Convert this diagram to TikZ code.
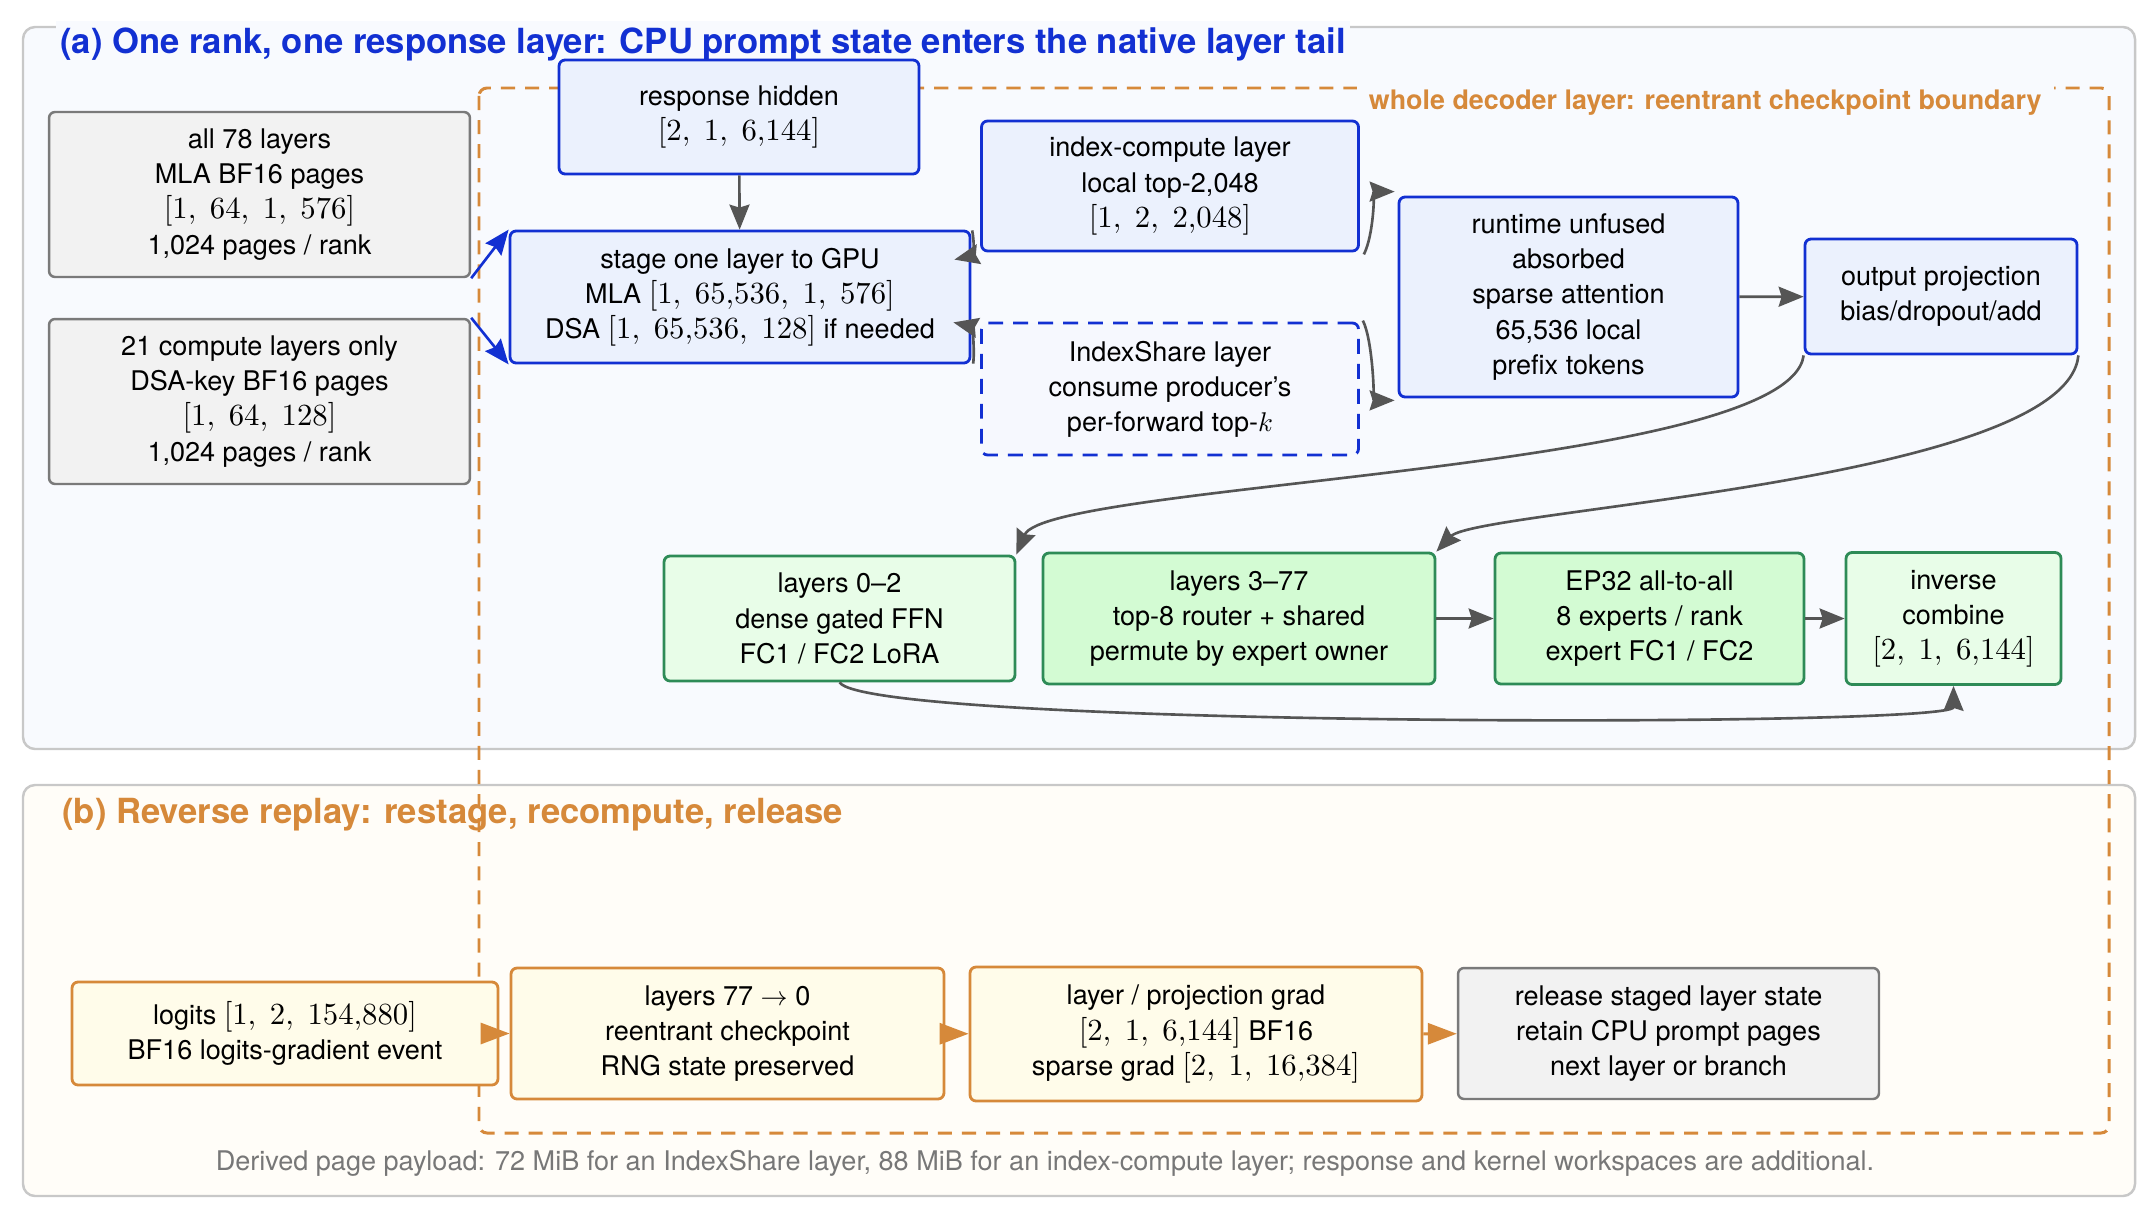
\documentclass[tikz,border=0pt]{standalone}
\usepackage[no-math]{fontspec}
\setmainfont{TeX Gyre Heros}
\usetikzlibrary{arrows.meta}
\DeclareFontShape{OT1}{cmr}{m}{n}{<->cmr10}{}
\DeclareFontShape{OML}{cmm}{m}{it}{<->cmmi10}{}
\DeclareFontShape{OMS}{cmsy}{m}{n}{<->cmsy10}{}
\DeclareFontShape{OMX}{cmex}{m}{n}{<->cmex10}{}
\newcommand{\tsr}[1]{{\fontsize{17.5}{20}\selectfont$#1$}}

\definecolor{gpuedge}{HTML}{1230D2}
\definecolor{gpufill}{HTML}{EBF1FD}
\definecolor{sharefill}{HTML}{F6F8FE}
\definecolor{cpuedge}{HTML}{7A7A7A}
\definecolor{cpufill}{HTML}{F2F2F2}
\definecolor{ffnedge}{HTML}{2E8B57}
\definecolor{ffnfill}{HTML}{E8FDE8}
\definecolor{moefill}{HTML}{D3FBD3}
\definecolor{bwdedge}{HTML}{D6893A}
\definecolor{bwdfill}{HTML}{FFFCEA}
\definecolor{panelA}{HTML}{F8FAFE}
\definecolor{panelB}{HTML}{FFFDF8}
\definecolor{paneledge}{HTML}{C8C8C8}
\definecolor{arrowgray}{HTML}{555555}
\definecolor{notegray}{HTML}{777777}

\begin{document}
\begin{tikzpicture}[x=0.02cm, y=-0.02cm,
    box/.style={draw, rounded corners=0.12cm, align=center, line width=1.6pt, inner sep=0pt, font=\fontsize{15.4}{20}\selectfont},
    cpubox/.style={box, draw=cpuedge, fill=cpufill, line width=1.4pt},
    gpubox/.style={box, draw=gpuedge, fill=gpufill},
    sharebox/.style={gpubox, fill=sharefill, dash pattern=on 8.5pt off 5.7pt},
    ffnbox/.style={box, draw=ffnedge, fill=ffnfill},
    moebox/.style={ffnbox, fill=moefill},
    bwdbox/.style={box, draw=bwdedge, fill=bwdfill},
    flow/.style={-{Stealth[length=0.5cm, width=0.4cm, inset=0.06cm]}, line width=1.5pt, draw=arrowgray},
    stageflow/.style={flow, draw=gpuedge},
    bwdflow/.style={-{Triangle[length=0.58cm, width=0.42cm]}, line width=1.7pt, draw=bwdedge},
    panel/.style={draw=paneledge, line width=1.4pt, rounded corners=0.24cm},
    paneltitle/.style={font=\fontsize{19.7}{24}\selectfont\bfseries, inner xsep=0.08cm, inner ysep=0.12cm, anchor=base west}]
    \useasboundingbox (0,0) rectangle (2150,1210);

    % panels and checkpoint boundary
    \draw[panel, fill=panelA] (23,27) rectangle (2135,749);
    \draw[panel, fill=panelB] (23,785) rectangle (2135,1196);
    \draw[draw=bwdedge, line width=1.7pt, dash pattern=on 8pt off 5.7pt, rounded corners=0.16cm] (479,88) rectangle (2109,1133);

    \node[paneltitle, text=gpuedge, fill=panelA] (titleA) at (56,53) {(a) One rank, one response layer: CPU prompt state enters the native layer tail};
    \node[paneltitle, text=bwdedge] (titleB) at (58,823) {(b) Reverse replay: restage, recompute, release};
    \node[font=\fontsize{15.3}{18}\selectfont\bfseries, text=bwdedge, fill=panelA, anchor=base east, inner xsep=0.24cm, inner ysep=0.1cm] (bound) at (2054,109) {whole decoder layer: reentrant checkpoint boundary};

    % forward pass
    \node[cpubox, minimum width=8.42cm, minimum height=3.3cm] (cpuall) at (259.5,194.5) {all 78 layers\\MLA BF16 pages\\\tsr{[1,\;64,\;1,\;576]}\\1,024 pages / rank};
    \node[cpubox, minimum width=8.42cm, minimum height=3.3cm] (cpudsa) at (259.5,401.5) {21 compute layers only\\DSA-key BF16 pages\\\tsr{[1,\;64,\;128]}\\1,024 pages / rank};
    \node[gpubox, minimum width=7.2cm, minimum height=2.28cm] (resp) at (739,117) {response hidden\\\tsr{[2,\;1,\;6{,}144]}};
    \node[gpubox, minimum width=9.2cm, minimum height=2.64cm] (stage) at (740,297) {stage one layer to GPU\\MLA \tsr{[1,\;65{,}536,\;1,\;576]}\\DSA \tsr{[1,\;65{,}536,\;128]} if needed};
    \node[gpubox, minimum width=7.54cm, minimum height=2.6cm] (idxc) at (1170,186) {index-compute layer\\local top-2,048\\\tsr{[1,\;2,\;2{,}048]}};
    \node[sharebox, minimum width=7.54cm, minimum height=2.64cm] (ishare) at (1170,389) {IndexShare layer\\consume producer’s\\per-forward top-$k$};
    \node[gpubox, minimum width=6.78cm, minimum height=4cm] (attn) at (1568.5,297) {runtime unfused\\absorbed\\sparse attention\\65,536 local\\prefix tokens};
    \node[gpubox, minimum width=5.44cm, minimum height=2.3cm] (oproj) at (1941,296.5) {output projection\\bias/dropout/add};
    \node[ffnbox, minimum width=7.02cm, minimum height=2.5cm] (dense) at (839.5,618.5) {layers 0–2\\dense gated FFN\\FC1 / FC2 LoRA};
    \node[moebox, minimum width=7.84cm, minimum height=2.62cm] (moe) at (1239,618.5) {layers 3–77\\top-8 router + shared\\permute by expert owner};
    \node[moebox, minimum width=6.18cm, minimum height=2.62cm] (alltoall) at (1649.5,618.5) {EP32 all-to-all\\8 experts / rank\\expert FC1 / FC2};
    \node[ffnbox, minimum width=4.3cm, minimum height=2.64cm] (combine) at (1953.5,618.5) {inverse\\combine\\\tsr{[2,\;1,\;6{,}144]}};

    % reverse replay
    \node[bwdbox, minimum width=8.52cm, minimum height=2.06cm] (logits) at (285,1033.5) {logits \tsr{[1,\;2,\;154{,}880]}\\BF16 logits-gradient event};
    \node[bwdbox, minimum width=8.66cm, minimum height=2.62cm] (replay) at (727.5,1033.5) {layers 77 $\rightarrow$ 0\\reentrant checkpoint\\RNG state preserved};
    \node[bwdbox, minimum width=9.04cm, minimum height=2.68cm] (grad) at (1196,1034) {layer / projection grad\\\tsr{[2,\;1,\;6{,}144]} BF16\\sparse grad \tsr{[2,\;1,\;16{,}384]}};
    \node[cpubox, minimum width=8.42cm, minimum height=2.62cm] (release) at (1668.5,1033.5) {release staged layer state\\retain CPU prompt pages\\next layer or branch};

    \node[font=\fontsize{15.4}{18}\selectfont, text=notegray, anchor=base] (note) at (1045,1170) {Derived page payload: 72 MiB for an IndexShare layer, 88 MiB for an index-compute layer; response and kernel workspaces are additional.};

    \draw[stageflow] (cpuall.south east) -- (stage.north west);
    \draw[stageflow] (cpudsa.north east) -- (stage.south west);
    \draw[flow] (resp) -- (stage);
    \draw[flow] ([shift={(-8,-22)}]idxc.south west) .. controls +(3,15) and +(18,-4) .. ([shift={(-17,30)}]stage.north east);
    \draw[flow] ([shift={(-7,42)}]ishare.north west) .. controls +(2,-15) and +(18,4) .. ([shift={(-18,-42)}]stage.south east);
    \draw[flow] ([shift={(4,2)}]idxc.south east) .. controls +(10,-20) and +(-20,0) .. ([shift={(-3,-4)}]attn.north west);
    \draw[flow] ([shift={(3,-1)}]ishare.north east) .. controls +(10,20) and +(-20,0) .. ([shift={(-3,2)}]attn.south west);
    \draw[flow] (attn) -- (oproj);
    \draw[flow] (oproj.south west) .. controls +(-15,116) and +(30,-72) .. (dense.north east);
    \draw[flow] (oproj.south east) .. controls +(-12,126) and +(40,-42) .. (moe.north east);
    \draw[flow] (moe) -- (alltoall);
    \draw[flow] (alltoall) -- (combine);
    \draw[flow] (dense.south) .. controls +(30,45) and +(0,42) .. (combine.south);

    \draw[bwdflow] (logits) -- (replay);
    \draw[bwdflow] (replay) -- (grad);
    \draw[bwdflow] (grad) -- (release);
\end{tikzpicture}
\end{document}
